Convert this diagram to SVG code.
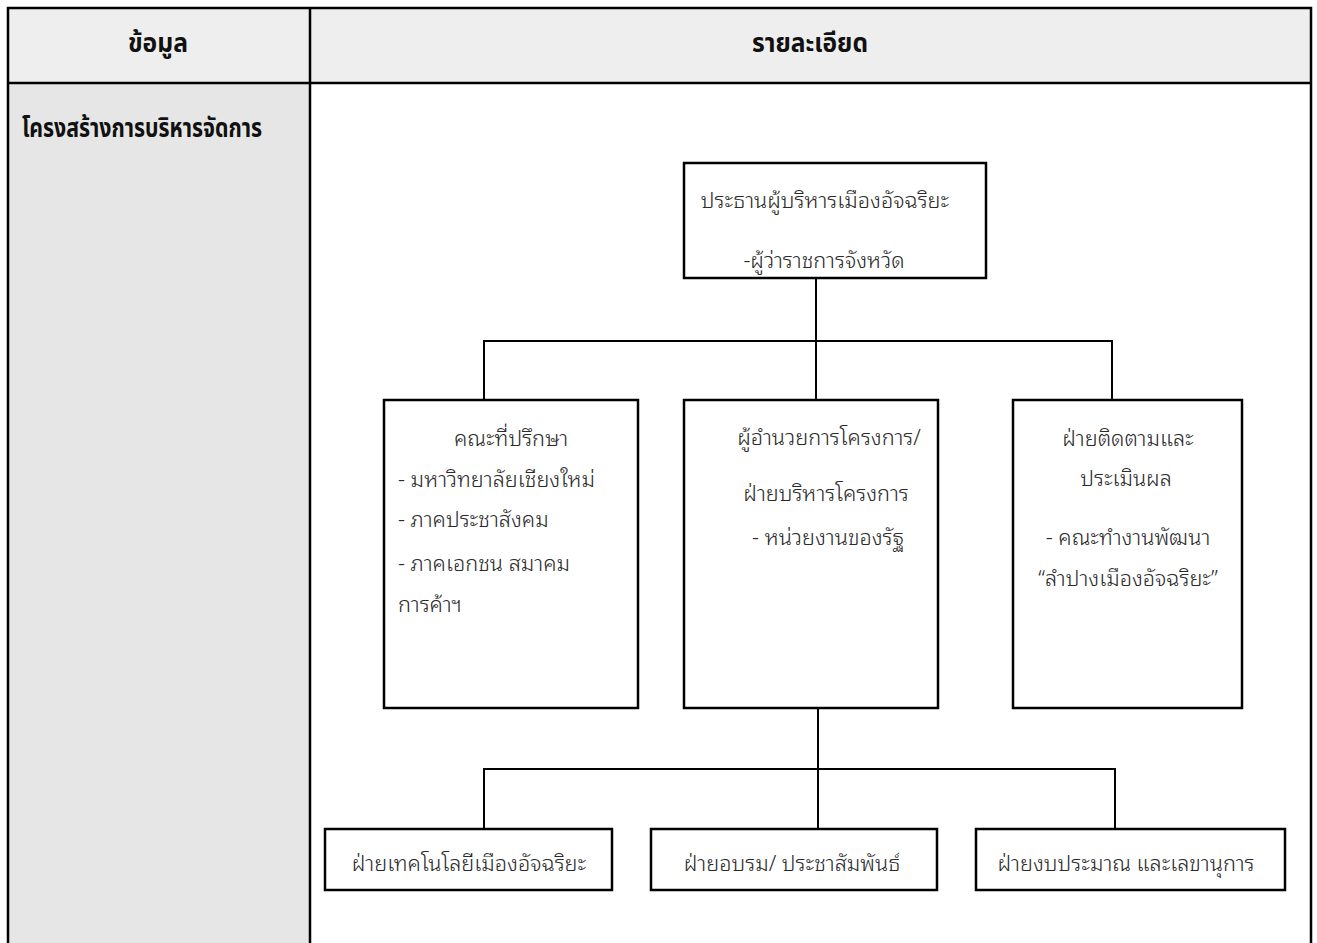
<svg xmlns="http://www.w3.org/2000/svg" width="1317" height="943" viewBox="0 0 1317 943">
<style>
.hd{font-family:"Noto Sans Thai","Noto Sans",sans-serif;font-weight:bold;font-size:26px;fill:#111}
.t{font-family:"Noto Sans Thai Looped",sans-serif;font-size:21.7px;font-weight:300;fill:#2a2a2a}
.c{text-anchor:middle}
.box{fill:#fff;stroke:#000;stroke-width:2.5}
.cn{fill:none;stroke:#000;stroke-width:2}
.grid{fill:none;stroke:#000;stroke-width:2.5}
</style>
<rect x="0" y="0" width="1317" height="943" fill="#fff"/>
<g id="table">
<rect x="8" y="8" width="1303" height="75" fill="#eeeeee"/>
<rect x="8" y="83" width="302" height="860" fill="#e6e6e6"/>
<path class="grid" d="M8 943V8H1311V943M8 83H1311M310 8V943"/>
<text class="hd c" x="158" y="52" textLength="60" lengthAdjust="spacingAndGlyphs">ข้อมูล</text>
<text class="hd c" x="810" y="52" textLength="116" lengthAdjust="spacingAndGlyphs">รายละเอียด</text>
<text class="hd" x="22" y="137" textLength="240" lengthAdjust="spacingAndGlyphs">โครงสร้างการบริหารจัดการ</text>
</g>
<g id="connectors">
<path class="cn" d="M816 278V341M484 400V341H1112V400M816 341V400"/>
<path class="cn" d="M818 708V769M484 829V769H1115V829M818 769V829"/>
</g>
<g id="n-top">
<rect class="box" x="684" y="163" width="302" height="115"/>
<text class="t c" x="825" y="208">ประธานผู้บริหารเมืองอัจฉริยะ</text>
<text class="t c" x="824" y="268">-ผู้ว่าราชการจังหวัด</text>
</g>
<g id="n-advisors">
<rect class="box" x="384" y="400" width="254" height="308"/>
<text class="t c" x="511" y="446">คณะที่ปรึกษา</text>
<text class="t" x="398" y="487">- มหาวิทยาลัยเชียงใหม่</text>
<text class="t" x="398" y="527">- ภาคประชาสังคม</text>
<text class="t" x="398" y="571">- ภาคเอกชน สมาคม</text>
<text class="t" x="398" y="612">การค้าฯ</text>
</g>
<g id="n-director">
<rect class="box" x="684" y="400" width="254" height="308"/>
<text class="t c" x="829" y="445">ผู้อำนวยการโครงการ/</text>
<text class="t c" x="826" y="501">ฝ่ายบริหารโครงการ</text>
<text class="t c" x="828" y="545">- หน่วยงานของรัฐ</text>
</g>
<g id="n-monitor">
<rect class="box" x="1013" y="400" width="229" height="308"/>
<text class="t c" x="1128" y="446">ฝ่ายติดตามและ</text>
<text class="t c" x="1126" y="486">ประเมินผล</text>
<text class="t c" x="1128" y="545">- คณะทำงานพัฒนา</text>
<text class="t c" x="1128" y="586">“ลำปางเมืองอัจฉริยะ”</text>
</g>
<g id="n-tech">
<rect class="box" x="325" y="829" width="287" height="61"/>
<text class="t c" x="469" y="871">ฝ่ายเทคโนโลยีเมืองอัจฉริยะ</text>
</g>
<g id="n-training">
<rect class="box" x="651" y="829" width="286" height="61"/>
<text class="t c" x="792" y="871">ฝ่ายอบรม/ ประชาสัมพันธ์</text>
</g>
<g id="n-budget">
<rect class="box" x="976" y="829" width="309" height="61"/>
<text class="t c" x="1126" y="871">ฝ่ายงบประมาณ และเลขานุการ</text>
</g>
</svg>
